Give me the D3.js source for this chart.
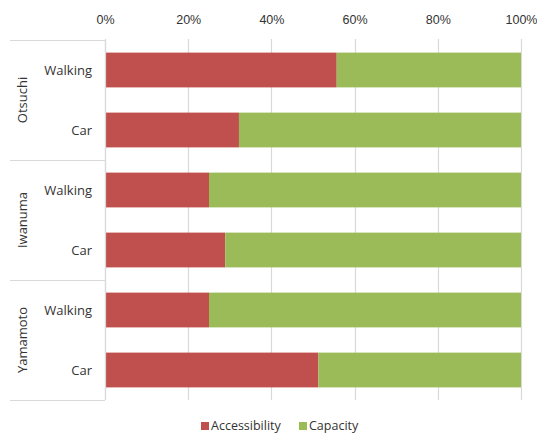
<!DOCTYPE html>
<html>
<head>
<meta charset="utf-8">
<script src="https://cdn.jsdelivr.net/npm/d3@7"></script>
<style>
  html, body { margin: 0; padding: 0; background: #fff; }
  svg { display: block; font-family: "Open Sans", "Segoe UI", sans-serif; }
</style>
</head>
<body>
<svg id="chart" width="537" height="434"></svg>
<script>
// Towns and travel modes (rows grouped by town, top to bottom)
const towns = ["Otsuchi", "Iwanuma", "Yamamoto"];
const modes = ["Walking", "Car"];
// Accessibility share (%) for each town × mode, in row order
const accessibility = [55.7, 32.2, 25.0, 28.9, 25.0, 51.3];
// Capacity share (%) — remainder of each 100% stacked bar
const capacity = [44.3, 67.8, 75.0, 71.1, 75.0, 48.7];
const seriesNames = ["Accessibility", "Capacity"];
const seriesColors = ["#C0504D", "#9BBB59"];
const tickValues = [0, 20, 40, 60, 80, 100];

const rows = [];
towns.forEach((t, ti) => modes.forEach((m, mi) => {
  const i = ti * modes.length + mi;
  rows.push({ key: t + "|" + m, town: t, mode: m, Accessibility: accessibility[i], Capacity: capacity[i] });
}));

const svg = d3.select("#chart");
const plotLeft = 105, plotRight = 521, plotTop = 40, plotBottom = 400, groupLeft = 10;
const textColor = "#333333";
const gridColor = "#D9D9D9";

const x = d3.scaleLinear().domain([0, 100]).range([plotLeft, plotRight]);
const y = d3.scaleBand().domain(rows.map(r => r.key)).range([plotTop, plotBottom]).paddingInner(0.42).paddingOuter(0.21);
const yGroup = d3.scaleBand().domain(towns).range([plotTop, plotBottom]);

// Vertical gridlines
svg.append("g").selectAll("line").data(tickValues).join("line")
  .attr("x1", d => Math.round(x(d)) + 0.5).attr("x2", d => Math.round(x(d)) + 0.5)
  .attr("y1", plotTop - 1).attr("y2", plotBottom)
  .attr("stroke", gridColor).attr("stroke-width", 1.2);

// Top percentage axis
const xAxis = svg.append("g").attr("transform", `translate(0,${plotTop})`)
  .call(d3.axisTop(x).tickValues(tickValues).tickFormat(d => d + "%").tickSize(0).tickPadding(16));
xAxis.select(".domain").remove();
xAxis.selectAll("text").attr("fill", textColor).attr("font-size", 12.5);

// Stacked bars
const stack = d3.stack().keys(seriesNames);
const stacked = stack(rows);
svg.append("g").selectAll("g").data(stacked).join("g")
  .attr("fill", (d, i) => seriesColors[i])
  .selectAll("rect").data(d => d).join("rect")
  .attr("x", d => x(d[0]))
  .attr("width", d => x(d[1]) - x(d[0]))
  .attr("y", d => y(d.data.key))
  .attr("height", y.bandwidth());

// Category axis frame: vertical line and group separators
const frame = svg.append("g").attr("stroke", gridColor).attr("stroke-width", 1.2);
frame.append("line").attr("x1", plotLeft + 0.5).attr("x2", plotLeft + 0.5).attr("y1", plotTop).attr("y2", plotBottom);
const bounds = towns.map(t => yGroup(t)).concat([plotBottom]);
frame.selectAll(".sep").data(bounds).join("line").attr("class", "sep")
  .attr("x1", groupLeft).attr("x2", plotLeft)
  .attr("y1", d => Math.round(d) + 0.5).attr("y2", d => Math.round(d) + 0.5);

// Mode labels
svg.append("g").selectAll("text").data(rows).join("text")
  .attr("x", 92).attr("y", d => y(d.key) + y.bandwidth() / 2)
  .attr("dy", "0.35em").attr("text-anchor", "end")
  .attr("fill", textColor).attr("font-size", 13)
  .text(d => d.mode);

// Town labels, rotated
svg.append("g").selectAll("text").data(towns).join("text")
  .attr("transform", d => `translate(22,${yGroup(d) + yGroup.bandwidth() / 2}) rotate(-90)`)
  .attr("dy", "0.35em").attr("text-anchor", "middle")
  .attr("fill", textColor).attr("font-size", 13)
  .text(d => d);

// Legend
const legendX = [201, 299];
const legend = svg.append("g").selectAll("g").data(seriesNames).join("g")
  .attr("transform", (d, i) => `translate(${legendX[i]},426)`);
legend.append("rect").attr("x", 0).attr("y", -4).attr("width", 8).attr("height", 8)
  .attr("fill", (d, i) => seriesColors[i]);
legend.append("text").attr("x", 10).attr("dy", "0.35em")
  .attr("fill", textColor).attr("font-size", 12.5).text(d => d);
</script>
</body>
</html>
